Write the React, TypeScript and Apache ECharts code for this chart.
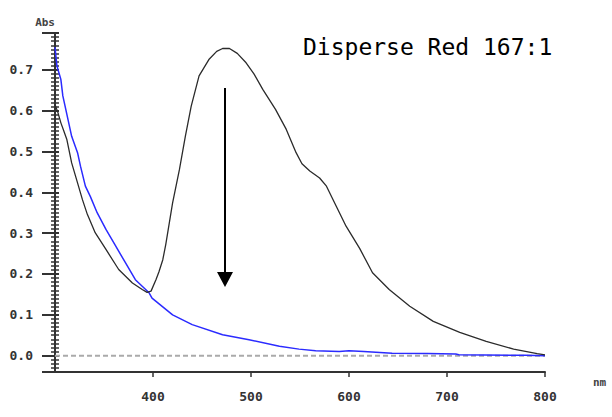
import React, { useEffect, useRef } from "react";
import * as echarts from "echarts";

// Initial spectrum (before irradiation)
const blackNm = [300, 303, 306, 309, 312, 317, 323, 328, 333, 341, 352, 365, 379, 389, 394, 398, 403, 406, 410, 413, 420, 427, 433, 439, 447, 457, 465, 471, 478, 486, 495, 503, 512, 525, 536, 546, 552, 560, 570, 577, 587, 597, 611, 624, 641, 662, 686, 713, 740, 768, 792, 800];
const blackAbs = [0.615, 0.595, 0.57, 0.55, 0.53, 0.472, 0.423, 0.382, 0.346, 0.301, 0.26, 0.211, 0.178, 0.162, 0.155, 0.158, 0.186, 0.205, 0.235, 0.272, 0.374, 0.456, 0.537, 0.611, 0.685, 0.725, 0.745, 0.752, 0.752, 0.74, 0.717, 0.69, 0.652, 0.603, 0.554, 0.497, 0.47, 0.452, 0.435, 0.415, 0.366, 0.317, 0.262, 0.203, 0.162, 0.121, 0.084, 0.057, 0.035, 0.016, 0.005, 0.002];

// Final spectrum (after irradiation)
const blueNm = [300, 302, 306, 308, 311, 314, 317, 323, 326, 331, 336, 343, 352, 362, 372, 382, 396, 399, 420, 440, 471, 498, 529, 549, 566, 590, 600, 615, 644, 680, 709, 712, 780, 800];
const blueAbs = [0.755, 0.709, 0.676, 0.636, 0.603, 0.57, 0.537, 0.497, 0.464, 0.415, 0.39, 0.35, 0.309, 0.268, 0.227, 0.186, 0.154, 0.141, 0.1, 0.076, 0.051, 0.039, 0.023, 0.016, 0.012, 0.01, 0.012, 0.01, 0.006, 0.005, 0.004, 0.002, 0.001, 0.0];

// Baseline (zero line)
const baselineNm = [300, 800];
const baselineAbs = [0, 0];

const yTickValues = [0, 0.1, 0.2, 0.3, 0.4, 0.5, 0.6, 0.7];
const xTickValues = [400, 500, 600, 700, 800];
const titleText = "Disperse Red 167:1";
const yName = "Abs";
const xName = "nm";

const FONT = "DejaVu Sans Mono";

export default function App() {
  const ref = useRef<HTMLDivElement>(null);
  useEffect(() => {
    if (!ref.current) return;
    const chart = echarts.init(ref.current, null, { renderer: "svg" });
    const yCommon = {
      type: "value",
      min: -0.04,
      max: 0.79,
      splitNumber: 8,
      position: "left",
      splitLine: { show: false },
    };
    chart.setOption({
      animation: false,
      backgroundColor: "#ffffff",
      grid: { left: 55, right: 67, top: 33, bottom: 45, containLabel: false, outerBoundsMode: "none" },
      xAxis: {
        type: "value",
        min: 300,
        max: 800,
        interval: 100,
        axisLine: { show: true, onZero: false, lineStyle: { color: "#333", width: 2 } },
        axisTick: { show: true, length: 5, lineStyle: { color: "#333", width: 1.5 }, customValues: xTickValues },
        axisLabel: {
          customValues: xTickValues,
          margin: 18,
          color: "#333",
          fontFamily: FONT,
          fontSize: 13,
          fontWeight: "bold",
        },
        splitLine: { show: false },
      },
      yAxis: [
        {
          ...yCommon,
          axisLine: { show: true, onZero: false, lineStyle: { color: "#333", width: 2 } },
          axisTick: { show: true, length: 13, lineStyle: { color: "#333", width: 2 } },
          minorTick: { show: true, splitNumber: 10, length: 4, lineStyle: { color: "#333", width: 1.5 } },
          axisLabel: {
            customValues: yTickValues,
            margin: 22,
            color: "#333",
            fontFamily: FONT,
            fontSize: 13,
            fontWeight: "bold",
            formatter: (v: number) => v.toFixed(1),
          },
        },
        {
          ...yCommon,
          axisLine: { show: false, onZero: false },
          axisTick: { show: true, inside: true, length: 4, lineStyle: { color: "#333", width: 2 } },
          minorTick: { show: true, splitNumber: 10, length: 4, lineStyle: { color: "#333", width: 1.5 } },
          axisLabel: { show: false },
        },
      ],
      series: [
        {
          type: "line",
          name: "baseline",
          data: baselineNm.map((x, i) => [x, baselineAbs[i]]),
          showSymbol: false,
          symbol: "none",
          lineStyle: { color: "#aaaaaa", type: [5, 3], width: 2 },
          z: 1,
        },
        {
          type: "line",
          name: "before",
          data: blackNm.map((x, i) => [x, blackAbs[i]]),
          showSymbol: false,
          symbol: "none",
          lineStyle: { color: "#2b2b2b", width: 1.3 },
          z: 3,
        },
        {
          type: "line",
          name: "after",
          data: blueNm.map((x, i) => [x, blueAbs[i]]),
          showSymbol: false,
          symbol: "none",
          lineStyle: { color: "#2b2bff", width: 1.5 },
          z: 2,
        },
      ],
      graphic: [
        {
          type: "text",
          left: 303,
          top: 35,
          style: { text: titleText, fontFamily: FONT, fontSize: 23, fill: "#000" },
        },
        {
          type: "text",
          x: 55,
          y: 22,
          style: { text: yName, fontFamily: FONT, fontSize: 11, fontWeight: "bold", fill: "#444", align: "right", verticalAlign: "middle" },
        },
        {
          type: "text",
          x: 593,
          y: 382,
          style: { text: xName, fontFamily: FONT, fontSize: 11, fontWeight: "bold", fill: "#444", align: "left", verticalAlign: "middle" },
        },
        {
          type: "line",
          shape: { x1: 225, y1: 88, x2: 225, y2: 273 },
          style: { stroke: "#000", lineWidth: 2 },
        },
        {
          type: "polygon",
          shape: { points: [[217, 272], [233, 272], [225, 287]] },
          style: { fill: "#000" },
        },
      ],
    });
    return () => chart.dispose();
  }, []);
  return <div ref={ref} style={{ width: 612, height: 417, position: "absolute", left: 0, top: 0 }} />;
}
